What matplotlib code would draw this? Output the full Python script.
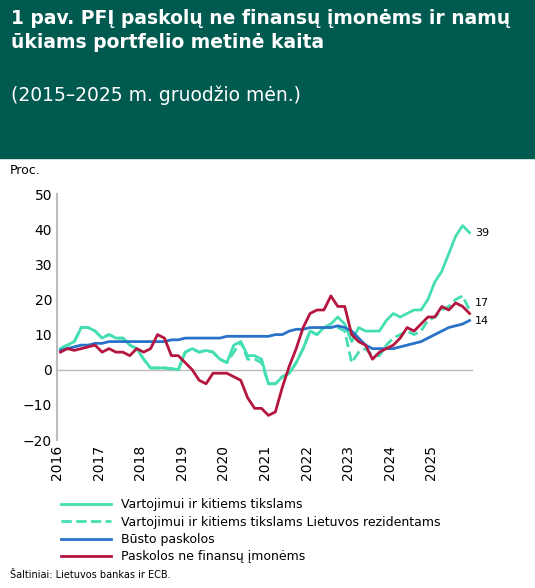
import numpy as np
import matplotlib.pyplot as plt
from matplotlib.lines import Line2D

# bimonthly points, 2016-2025
t = 2016 + np.arange(60) / 6 + 1/12

vart = [6,7,8,12,12,11, 9,10,9,9,7,6, 3,0.5,0.5,0.5,0.3,0, 5,6,5,5.5,5,3,
        2,7,8,4,4,3, -4,-4,-2,-1,2,6, 11,10,12,13,15,13, 8,12,11,11,11,14,
        16,15,16,17,17,20, 25,28,33,38,41,39]
vart_lt = [6,7,8,12,12,11, 9,10,9,9,7,6, 3,0.5,0.5,0.5,0.3,0, 5,6,5,5.5,5,3,
           2,5,8,3,3,2, -4,-4,-2,-1,2,6, 11,10,12,12,12,11, 2,5,6,4,4,7,
           9,10,11,10,11,14, 15,17,18,20,21,17]
bustas = [5.5,6,6.5,7,7,7.5, 7.5,8,8,8,8,8, 8,8,8,8,8.5,8.5, 9,9,9,9,9,9,
          9.5,9.5,9.5,9.5,9.5,9.5, 9.5,10,10,11,11.5,11.5, 12,12,12,12,12.5,12,
          11,9,7,6,6,6, 6,6.5,7,7.5,8,9, 10,11,12,12.5,13,14]
imones = [5,6,5.5,6,6.5,7, 5,6,5,5,4,6, 5,6,10,9,4,4, 2,0,-3,-4,-1,-1,
          -1,-2,-3,-8,-11,-11, -13,-12,-5,1,6,12, 16,17,17,21,18,18,
          10,8,7,3,5,6, 7,9,12,11,13,15, 15,18,17,19,18,16]

green = '#45deb2'
blue = '#2a72c8'
red = '#b5163f'

fig = plt.figure(figsize=(5.35, 5.88), dpi=100)
fig.patches.append(plt.Rectangle((0, 1 - 158/588), 1, 158/588, transform=fig.transFigure,
                                 color='#005a50', zorder=0))
fig.text(0.02, 0.985, '1 pav. PFĮ paskolų ne finansų įmonėms ir namų\nūkiams portfelio metinė kaita',
         color='white', fontsize=13.5, fontweight='bold', va='top', linespacing=1.35)
fig.text(0.02, 0.855, '(2015–2025 m. gruodžio mėn.)', color='white', fontsize=13.5, va='top')

ax = fig.add_axes([57/535, 1 - 440/588, (473-57)/535, (440-194)/588])
ax.plot(t, vart, color=green, lw=2)
ax.plot(t, vart_lt, color=green, lw=2, ls='--')
ax.plot(t, bustas, color=blue, lw=2)
ax.plot(t, imones, color=red, lw=2)
ax.axhline(0, color='#bbbbbb', lw=1, zorder=0)

ax.set_xlim(2016, 2026)
ax.set_ylim(-20, 50)
ax.set_yticks(range(-20, 51, 10))
ax.set_yticklabels(['−20', '−10', '0', '10', '20', '30', '40', '50'])
ax.set_xticks(range(2016, 2026))
ax.set_xticklabels([str(y) for y in range(2016, 2026)], rotation=90)
ax.tick_params(length=0, labelsize=10)
for s in ['top', 'right', 'bottom']:
    ax.spines[s].set_visible(False)
ax.spines['left'].set_color('#bbbbbb')
ax.spines['left'].set_linewidth(1.5)

ax.text(2026.05, 39, '39', fontsize=8, va='center', clip_on=False)
ax.text(2026.05, 19, '17', fontsize=8, va='center', clip_on=False)
ax.text(2026.05, 14, '14', fontsize=8, va='center', clip_on=False)
fig.text(10/535, 1 - 170/588, 'Proc.', fontsize=9, va='center')

handles = [Line2D([], [], color=green, lw=2),
           Line2D([], [], color=green, lw=2, ls='--'),
           Line2D([], [], color=blue, lw=2),
           Line2D([], [], color=red, lw=2)]
labels = ['Vartojimui ir kitiems tikslams',
          'Vartojimui ir kitiems tikslams Lietuvos rezidentams',
          'Būsto paskolos', 'Paskolos ne finansų įmonėms']
fig.legend(handles, labels, loc='upper left', bbox_to_anchor=(55/535, 1 - 492/588),
           frameon=False, fontsize=9, handlelength=4, labelspacing=0.35, borderpad=0)
fig.text(10/535, 1 - 575/588, 'Šaltiniai: Lietuvos bankas ir ECB.', fontsize=7, va='center')

fig.savefig('out.png', dpi=100)
